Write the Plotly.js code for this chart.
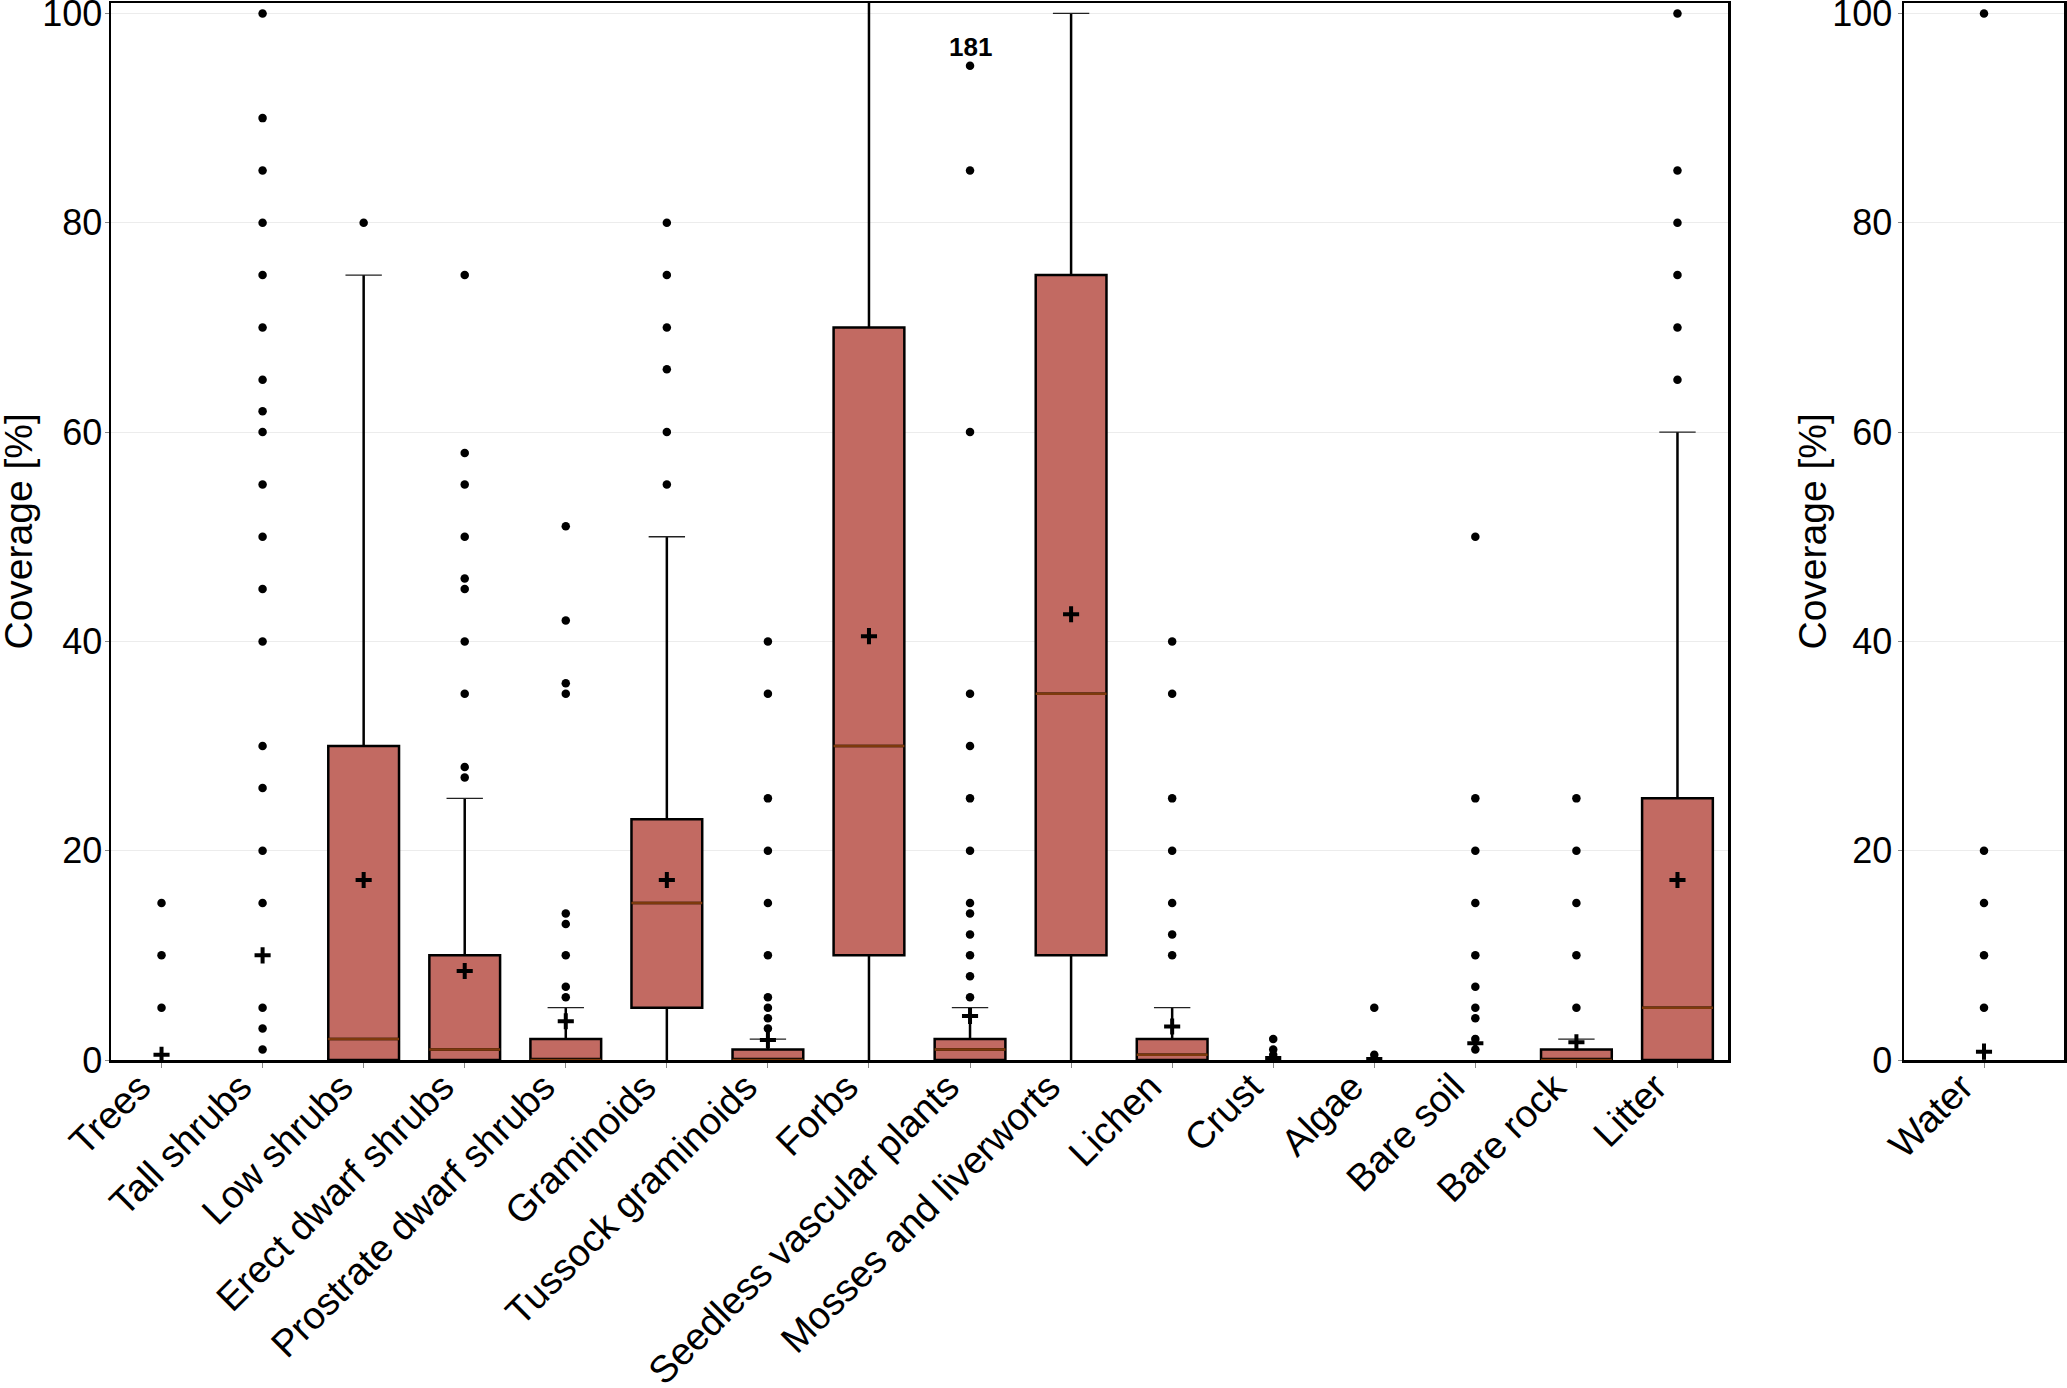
<!DOCTYPE html>
<html>
<head>
<meta charset="utf-8">
<script src="https://cdn.plot.ly/plotly-3.0.1.min.js"></script>
<style>html,body{margin:0;padding:0;background:#fff;}#chart{width:2067px;height:1388px;}</style>
</head>
<body>
<div id="chart"></div>
<script>
// ---- data ----
const categories = ["Trees","Tall shrubs","Low shrubs","Erect dwarf shrubs","Prostrate dwarf shrubs",
  "Graminoids","Tussock graminoids","Forbs","Seedless vascular plants","Mosses and liverworts",
  "Lichen","Crust","Algae","Bare soil","Bare rock","Litter"];
const q1          = [0, 0, 0,  0, 0,  5, 0, 10, 0, 10, 0,   0, 0, 0, 0, 0];
const median      = [0, 0, 2,  1, 0, 15, 0, 30, 1, 35, 0.5, 0, 0, 0, 0, 5];
const q3          = [0, 0, 30, 10, 2, 23, 1, 70, 2, 75, 2,  0, 0, 0, 1, 25];
const lowerFence  = [0, 0, 0,  0, 0,  0, 0,  0, 0,  0, 0,   0, 0, 0, 0, 0];
const upperFence  = [0, 0, 75, 25, 5, 50, 2, 160, 5, 100, 5, 0, 0, 0, 2, 60];
const means       = [0.5, 10, 17.2, 8.5, 3.7, 17.2, 1.9, 40.5, 4.2, 42.6, 3.2, 0.2, 0.1, 1.6, 1.7, 17.2];
const outliers = [
  [15, 10, 5],
  [100, 90, 85, 80, 75, 70, 65, 62, 60, 55, 50, 45, 40, 30, 26, 20, 15, 5, 3, 1],
  [80],
  [75, 58, 55, 50, 46, 45, 40, 35, 28, 27],
  [51, 42, 36, 35, 14, 13, 10, 7, 6],
  [80, 75, 70, 66, 60, 55],
  [40, 35, 25, 20, 15, 10, 6, 5, 4, 3],
  [],
  [95, 85, 60, 35, 30, 25, 20, 15, 14, 12, 10, 8, 6],
  [],
  [40, 35, 25, 20, 15, 12, 10],
  [2, 1, 0.5],
  [5, 0.5],
  [50, 25, 20, 15, 10, 7, 5, 4, 2, 1],
  [25, 20, 15, 10, 5],
  [100, 85, 80, 75, 70, 65]
];
const waterCategory = ["Water"];
const waterQ1 = [0], waterMedian = [0], waterQ3 = [0], waterLower = [0], waterUpper = [0];
const waterMean = [0.8];
const waterOutliers = [[100, 20, 15, 10, 5]];
const labelText = "181";
const labelCategory = "Seedless vascular plants";
const labelValue = 96.8;
const yTicks = [0, 20, 40, 60, 80, 100];
const yTitle = "Coverage [%]";

// ---- styles ----
const FONT = "Liberation Sans, Arial, sans-serif";
const BOXFILL = "#C26A62";
const MEDCOL = "#7d3a0c";

function flatOut(cats, outs){
  const xs = [], ys = [];
  outs.forEach((arr, i) => arr.forEach(v => { xs.push(cats[i]); ys.push(v); }));
  return {xs, ys};
}

function boxTraces(cats, Q1, MED, Q3, LF, UF, MEAN, OUTS, xa, ya){
  const o = flatOut(cats, OUTS);
  const keep = cats.map((c, i) => (Q3[i] > 0 || UF[i] > 0) ? i : -1).filter(i => i >= 0);
  const pick = arr => keep.map(i => arr[i]);
  const kc = pick(cats), kq1 = pick(Q1), kmed = pick(MED), kq3 = pick(Q3), klf = pick(LF), kuf = pick(UF);
  const common = {type:"box", x:kc, boxpoints:false, xaxis:xa, yaxis:ya, hoverinfo:"skip", showlegend:false};
  const traces = [];
  if (keep.length) {
    traces.push(
      Object.assign({}, common, {q1:kq1, median:kmed, q3:kq3, lowerfence:klf, upperfence:kuf,
        fillcolor:BOXFILL, line:{color:"#000", width:2.5}, whiskerwidth:0, width:0.7}),
      Object.assign({}, common, {q1:kmed, median:kmed, q3:kmed, lowerfence:kmed, upperfence:kmed,
        fillcolor:"rgba(0,0,0,0)", line:{color:MEDCOL, width:2.5}, whiskerwidth:0, width:0.7}),
      Object.assign({}, common, {q1:kuf, median:kuf, q3:kuf, lowerfence:kuf, upperfence:kuf,
        fillcolor:"rgba(0,0,0,0)", line:{color:"#222", width:1.3}, whiskerwidth:0, width:0.36})
    );
  }
  traces.push(
    {type:"scatter", mode:"markers", x:o.xs, y:o.ys, xaxis:xa, yaxis:ya,
     marker:{color:"#000", size:8.5, symbol:"circle"}, hoverinfo:"skip", showlegend:false},
    {type:"scatter", mode:"markers", x:cats, y:MEAN, xaxis:xa, yaxis:ya,
     marker:{color:"#000", size:11.5, symbol:"cross-thin", line:{color:"#000", width:4}},
     hoverinfo:"skip", showlegend:false}
  );
  return traces;
}

const data = [
  ...boxTraces(categories, q1, median, q3, lowerFence, upperFence, means, outliers, "x", "y"),
  ...boxTraces(waterCategory, waterQ1, waterMedian, waterQ3, waterLower, waterUpper, waterMean, waterOutliers, "x2", "y2")
];

const W = 2067, H = 1388;
const yDomain = [(H - 1060) / H, (H - 3) / H];
const yMid = (yDomain[0] + yDomain[1]) / 2;

const xCommon = {
  type:"category", showline:true, mirror:true, linecolor:"#000", linewidth:2.5,
  ticks:"outside", ticklen:5, tickwidth:1, tickcolor:"#888", tickangle:-45,
  tickfont:{family:FONT, size:38, color:"#000"}, showgrid:false, zeroline:false,
  ticklabelshift:-22, ticklabelstandoff:-18, ticklabeloverflow:"allow",
  automargin:false, fixedrange:true
};
const yCommon = {
  range:[0, 101], tickvals:yTicks, ticktext:yTicks.map(String),
  showline:true, mirror:true, linecolor:"#000", linewidth:2.5,
  ticks:"outside", ticklen:4, tickwidth:1, tickcolor:"#888",
  tickfont:{family:FONT, size:36, color:"#000"}, ticklabeloverflow:"allow",
  showgrid:true, gridcolor:"#ececec", gridwidth:1, zeroline:false,
  automargin:false, fixedrange:true
};
const titleFont = {family:FONT, size:39, color:"#000"};

const layout = {
  width:W, height:H,
  margin:{l:0, r:0, t:0, b:0, pad:0},
  paper_bgcolor:"#fff", plot_bgcolor:"#fff",
  showlegend:false, boxmode:"overlay", boxgap:0.3, boxgroupgap:0,
  xaxis: Object.assign({}, xCommon, {domain:[111/W, 1728/W], range:[-0.5, categories.length - 0.5],
    categoryorder:"array", categoryarray:categories, anchor:"y"}),
  yaxis: Object.assign({}, yCommon, {domain:yDomain, anchor:"x", ticklabelstandoff:-5}),
  xaxis2: Object.assign({}, xCommon, {domain:[1904/W, 2064/W], range:[-0.5, 0.5],
    categoryorder:"array", categoryarray:waterCategory, anchor:"y2"}),
  yaxis2: Object.assign({}, yCommon, {domain:yDomain, anchor:"x2", ticklabelstandoff:-2}),
  annotations:[
    {xref:"x", yref:"y", x:categories.indexOf(labelCategory), y:labelValue,
     text:"<b>" + labelText + "</b>", showarrow:false,
     font:{family:FONT, size:26, color:"#000"}, xanchor:"center", yanchor:"middle"},
    {xref:"paper", yref:"paper", x:18/W, y:yMid, text:yTitle, textangle:-90, showarrow:false,
     font:titleFont, xanchor:"center", yanchor:"middle"},
    {xref:"paper", yref:"paper", x:1812/W, y:yMid, text:yTitle, textangle:-90, showarrow:false,
     font:titleFont, xanchor:"center", yanchor:"middle"}
  ]
};

Plotly.newPlot("chart", data, layout, {staticPlot:true, displayModeBar:false});
</script>
</body>
</html>
